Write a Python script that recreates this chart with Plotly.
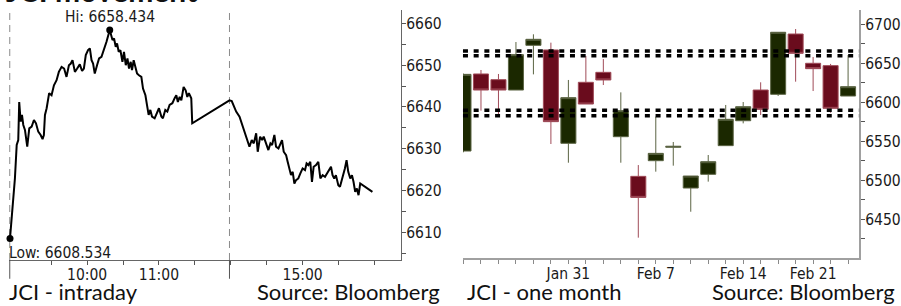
import plotly.graph_objects as go

W, H = 901, 306

# ---------------- JCI intraday (left) ----------------
# minutes after 09:00 on the chart's session clock (lunch break compressed)
s1_min = [-4.4, -0.3, 1.2, 2.5, 3.3, 4.5, 5.6, 6.7, 8.1, 10.0, 11.7, 13.7, 15.6, 17.3, 19.2,
          21.2, 22.8, 23.9, 24.8, 26.2, 28.3, 30.3, 32.3, 34.5, 36.4, 38.7, 40.8, 42.8, 44.8,
          46.4, 47.8, 49.8, 51.7, 53.9, 55.8, 57.3, 58.9, 60.8, 62.3, 63.7, 65.0, 66.4, 68.3,
          70.0, 72.0, 73.9, 76.2, 78.9, 81.2, 82.5, 83.9, 85.0, 86.4, 87.8, 89.5, 90.8, 92.3,
          93.7, 95.0, 96.4, 97.5, 98.9, 100.3, 101.7, 103.3, 105.3, 106.7, 108.7, 110.0, 111.4,
          112.8, 114.2, 116.4, 118.3, 120.0, 122.0, 123.3, 125.3, 127.0, 128.9, 131.2, 133.1,
          134.5, 135.8, 137.3, 138.7, 140.6, 142.3, 143.7, 145.0, 147.0, 147.8]
s1_px = [6608.534, 6622.9, 6630.9, 6632.1, 6641.2, 6636.5, 6638.1, 6635.7, 6634.5, 6630.5,
         6634.9, 6635.3, 6636.9, 6636.1, 6634.1, 6633.3, 6632.3, 6633.3, 6638.1, 6639.7,
         6643.3, 6642.8, 6645.2, 6646.4, 6648.4, 6649.6, 6649.2, 6647.2, 6650.0, 6650.4,
         6651.2, 6648.4, 6649.2, 6650.2, 6648.6, 6649.2, 6652.4, 6653.6, 6654.0, 6651.2,
         6650.4, 6648.0, 6650.0, 6651.6, 6652.0, 6653.6, 6655.6, 6658.434, 6656.0, 6656.4,
         6654.4, 6655.2, 6653.2, 6653.6, 6650.8, 6653.2, 6650.0, 6651.6, 6649.2, 6650.8,
         6648.8, 6651.2, 6649.2, 6648.0, 6647.6, 6647.2, 6644.4, 6642.8, 6640.5, 6638.1,
         6639.3, 6637.7, 6637.3, 6638.5, 6639.7, 6637.7, 6637.3, 6639.3, 6638.9, 6640.5,
         6640.9, 6642.1, 6642.8, 6641.2, 6642.4, 6641.6, 6644.8, 6644.0, 6642.4, 6643.3,
         6642.1, 6636.1]
s2_min = [178.9, 180.8, 182.5, 184.5, 187.3, 189.2, 191.4, 193.3, 195.6, 197.5, 199.2, 201.2,
          202.5, 204.5, 206.2, 207.5, 209.5, 211.4, 213.1, 214.5, 216.4, 217.8, 219.8, 221.4,
          222.8, 224.2, 226.2, 227.5, 228.9, 230.3, 231.7, 233.1, 234.5, 236.4, 238.1, 240.0,
          242.0, 243.3, 244.8, 246.4, 247.8, 249.2, 251.2, 253.1, 254.8, 256.7, 258.7, 260.3,
          261.7, 263.7, 265.0, 266.4, 267.8, 269.8, 271.2, 272.8, 274.2, 275.3, 276.7, 278.1,
          279.8, 281.2, 282.5, 283.9, 285.3, 286.7, 288.1, 290.0, 292.8, 295.6, 298.3]
s2_px = [6641.6, 6641.4, 6640.0, 6638.9, 6637.7, 6636.1, 6634.5, 6632.9, 6630.5, 6632.1,
         6631.3, 6633.7, 6629.3, 6632.9, 6632.1, 6632.9, 6631.3, 6629.7, 6631.3, 6630.9,
         6633.3, 6630.5, 6630.1, 6631.3, 6632.1, 6629.3, 6628.5, 6626.9, 6624.9, 6623.7,
         6624.5, 6621.7, 6622.5, 6622.9, 6624.1, 6625.3, 6624.9, 6626.5, 6626.1, 6626.9,
         6622.1, 6625.7, 6626.1, 6626.9, 6622.9, 6623.7, 6623.3, 6624.1, 6624.5, 6625.7,
         6623.7, 6622.9, 6623.7, 6621.3, 6620.9, 6622.5, 6623.7, 6625.3, 6627.3, 6624.5,
         6622.9, 6623.7, 6622.1, 6619.7, 6620.5, 6618.9, 6621.7, 6621.3, 6620.9, 6620.3,
         6619.7]
intraday_tickvals = [30, 60, 90, 120, 150, 180, 210, 240, 270, 300]
intraday_ticktext = ["", "10:00", "", "11:00", "", "", "", "15:00", "", ""]

# ---------------- JCI one month (right) ----------------
dates = ["2022-01-21", "2022-01-24", "2022-01-25", "2022-01-26", "2022-01-27", "2022-01-28",
         "2022-01-31", "2022-02-01", "2022-02-02", "2022-02-03", "2022-02-04", "2022-02-07",
         "2022-02-08", "2022-02-09", "2022-02-10", "2022-02-11", "2022-02-14", "2022-02-15",
         "2022-02-16", "2022-02-17", "2022-02-21", "2022-02-22", "2022-02-23"]
opens = [6537.6, 6636.5, 6629.2, 6615.9, 6673.3, 6667.3, 6547.5, 6625.8, 6638.6, 6556.0,
         6505.1, 6525.2, 6542.4, 6490.1, 6507.7, 6544.5, 6576.5, 6615.9, 6610.4, 6687.8,
         6650.2, 6647.2, 6608.2]
highs = [6637.0, 6641.6, 6636.5, 6677.5, 6687.4, 6676.7, 6628.8, 6659.6, 6655.7, 6612.9,
         6519.6, 6581.7, 6549.2, 6505.5, 6532.5, 6596.7, 6600.5, 6625.8, 6690.0, 6694.2,
         6658.3, 6649.4, 6660.8]
lows = [6536.0, 6589.4, 6583.8, 6615.9, 6636.0, 6546.6, 6522.6, 6597.9, 6622.3, 6522.6,
        6426.4, 6511.1, 6518.8, 6459.7, 6498.3, 6544.5, 6573.1, 6583.8, 6608.3, 6626.6,
        6614.6, 6586.8, 6608.2]
closes = [6636.0, 6615.9, 6615.9, 6661.3, 6681.0, 6575.3, 6606.1, 6597.9, 6628.8, 6589.4,
          6478.1, 6534.6, 6543.6, 6505.5, 6523.9, 6578.3, 6594.5, 6591.1, 6690.0, 6663.0,
          6643.3, 6592.4, 6620.2]
month_labels = {"2022-01-31": "Jan 31", "2022-02-07": "Feb 7",
                "2022-02-14": "Feb 14", "2022-02-21": "Feb 21"}
levels = [6666.0, 6659.9, 6589.9, 6582.8]

# ---------------- layout geometry ----------------
def px_x(a, b):
    return [a / W, b / W]

def px_y(top, bottom):
    return [1 - bottom / H, 1 - top / H]

TICK_FONT = dict(family="DejaVu Sans Condensed, Liberation Sans, sans-serif", size=15.5, color="#1a1a1a")
CAP_FONT = dict(family="Lato, Liberation Sans, sans-serif", size=22, color="#111111")

x1_range = [-5.25, 322.25]

fig = go.Figure()

minutes = s1_min + s2_min
prices = s1_px + s2_px
fig.add_trace(go.Scatter(x=minutes, y=prices, mode="lines",
                         line=dict(color="black", width=2), xaxis="x", yaxis="y",
                         showlegend=False, hoverinfo="skip"))

hi = max(prices)
lo = min(prices)
hi_x = minutes[prices.index(hi)]
lo_x = minutes[prices.index(lo)]
fig.add_trace(go.Scatter(x=[hi_x, lo_x], y=[hi, lo], mode="markers",
                         marker=dict(color="black", size=7), cliponaxis=False,
                         xaxis="x", yaxis="y", showlegend=False, hoverinfo="skip"))

fig.add_trace(go.Candlestick(
    x=dates, open=opens, high=highs, low=lows, close=closes,
    xaxis="x2", yaxis="y2", whiskerwidth=0, showlegend=False,
    increasing=dict(fillcolor="#1b2800", line=dict(color="#5b6443", width=1)),
    decreasing=dict(fillcolor="#6a0c1d", line=dict(color="#a04b58", width=1)),
))

shapes = []
# session separators (dashed in plot, solid tick below axis)
def xfrac(v):
    return (v - x1_range[0]) / (x1_range[1] - x1_range[0])

for xv in [0.002, xfrac(s2_min[0])]:
    shapes.append(dict(type="line", xref="x domain", yref="y domain", x0=xv, x1=xv,
                       y0=0, y1=1, line=dict(color="#8a8a8a", width=1, dash="7px,5px"),
                       layer="below"))
    shapes.append(dict(type="line", xref="x domain", yref="y domain", x0=xv, x1=xv,
                       y0=-0.075, y1=0, line=dict(color="#555555", width=1)))
# support / resistance bands
for lv in levels:
    shapes.append(dict(type="line", xref="x2 domain", yref="y2", x0=0, x1=1, y0=lv, y1=lv,
                       line=dict(color="black", width=3.4, dash="5px,5.7px"), layer="above"))

annotations = [
    dict(x=hi_x, y=hi, xref="x", yref="y", text=f"Hi: {hi:.3f}", showarrow=False,
         xanchor="center", yanchor="bottom", yshift=2, font=TICK_FONT),
    dict(x=lo_x, y=lo, xref="x", yref="y", text=f"Low: {lo:.3f}", showarrow=False,
         xanchor="left", yanchor="top", yshift=-3, xshift=-3, font=TICK_FONT),
    dict(x=7 / W, y=1 - 291 / H, xref="paper", yref="paper", text="JCI - intraday", showarrow=False,
         xanchor="left", yanchor="middle", font=CAP_FONT),
    dict(x=443 / W, y=1 - 291 / H, xref="paper", yref="paper", text="Source: Bloomberg", showarrow=False,
         xanchor="right", yanchor="middle", font=CAP_FONT),
    dict(x=466 / W, y=1 - 291 / H, xref="paper", yref="paper", text="JCI - one month", showarrow=False,
         xanchor="left", yanchor="middle", font=CAP_FONT),
    dict(x=899 / W, y=1 - 291 / H, xref="paper", yref="paper", text="Source: Bloomberg", showarrow=False,
         xanchor="right", yanchor="middle", font=CAP_FONT),
    dict(x=4 / W, y=1 - 10 / H, xref="paper", yref="paper", text="<b>JCI movement</b>",
         showarrow=False, xanchor="left", yanchor="bottom",
         font=dict(family="Lato, Liberation Sans, sans-serif", size=30, color="#111111")),
]

fig.update_layout(
    width=W, height=H, margin=dict(l=0, r=0, t=0, b=0),
    paper_bgcolor="white", plot_bgcolor="white",
    boxgap=0.14, boxgroupgap=0,
    xaxis=dict(domain=px_x(9, 402), range=x1_range, anchor="y",
               tickvals=intraday_tickvals, ticktext=intraday_ticktext,
               ticks="outside", ticklen=4, tickcolor="#555555",
               showline=True, linecolor="#666666", linewidth=1,
               showgrid=False, zeroline=False, tickfont=TICK_FONT, ticklabelstandoff=-4),
    yaxis=dict(domain=px_y(10, 260), range=[6603.4, 6663.2], anchor="x", side="right",
               dtick=10, tick0=6600, ticks="outside", ticklen=4, tickcolor="#555555",
               minor=dict(dtick=5, tick0=6600, ticks="outside", ticklen=4, tickcolor="#555555"),
               showline=True, linecolor="#666666", linewidth=1,
               showgrid=False, zeroline=False, tickfont=TICK_FONT, ticklabelstandoff=-3),
    xaxis2=dict(domain=px_x(464, 861), type="category", range=[-0.03, 22.63], anchor="y2",
                tickvals=dates, ticktext=[month_labels.get(d, "") for d in dates],
                ticks="outside", ticklen=4, tickcolor="#8a8a8a",
                showline=True, linecolor="#a0a0a0", linewidth=2,
                showgrid=False, zeroline=False, tickfont=TICK_FONT, ticklabelstandoff=-4,
                rangeslider=dict(visible=False)),
    yaxis2=dict(domain=px_y(10, 258), range=[6400.3, 6718.6], anchor="x2", side="right",
                dtick=50, tick0=6400, ticks="outside", ticklen=4, tickcolor="#555555",
                minor=dict(dtick=25, tick0=6400, ticks="outside", ticklen=4, tickcolor="#555555"),
                showline=True, linecolor="#a0a0a0", linewidth=2,
                showgrid=False, zeroline=False, tickfont=TICK_FONT, ticklabelstandoff=-3),
    shapes=shapes, annotations=annotations,
)

fig.write_html("out.html", config={"displayModeBar": False},
               post_script="document.body.style.margin='0';document.body.style.padding='0';"
                           "document.documentElement.style.overflow='hidden';")
